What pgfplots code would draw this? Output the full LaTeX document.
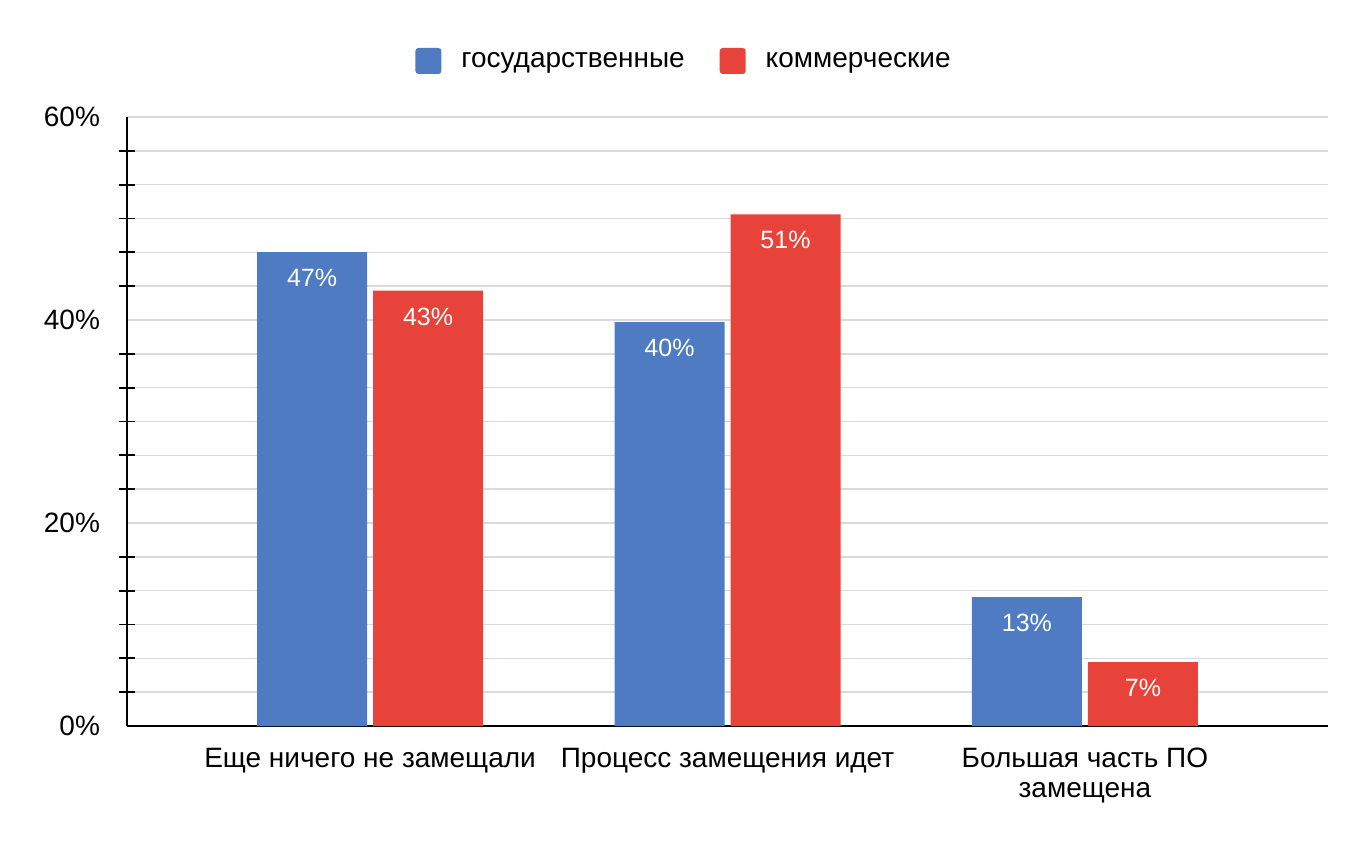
\documentclass[border=0pt]{standalone}
\usepackage{fontspec}
\setmainfont{Liberation Sans}
\usepackage{pgfplots}
\pgfplotsset{compat=1.18}
\definecolor{gosblue}{HTML}{4E7BC1}
\definecolor{komred}{HTML}{E8433A}
\definecolor{gridgray}{HTML}{DADADA}
\pgfplotsset{sq legend/.style={legend image code/.code={%
    \path[##1, rounded corners=1.5pt] (0pt,-6.5pt) rectangle (13pt,6.5pt);}}}

\begin{document}
\begin{tikzpicture}
\path[use as bounding box] (0,0) rectangle (685pt,423.5pt);
\begin{axis}[
    at={(63.5pt,60.5pt)}, anchor=south west,
    scale only axis,
    width=600.5pt, height=304.5pt,
    ybar=3pt, bar width=55pt,
    xmin=-0.68, xmax=2.68,
    ymin=0, ymax=60,
    xtick={0,1,2},
    xticklabels={Еще ничего не замещали, Процесс замещения идет, {Большая часть ПО\\замещена}},
    xticklabel style={align=center, font=\fontsize{14}{15}\selectfont, yshift=-7.5pt},
    ytick={0,20,40,60},
    /pgf/number format/assume math mode=true,
    yticklabel={\pgfmathprintnumber{\tick}\%},
    yticklabel style={font=\fontsize{14}{17}\selectfont, xshift=-10pt},
    minor y tick num=5,
    ymajorgrids, yminorgrids,
    major grid style={gridgray, line width=0.8pt},
    minor grid style={gridgray, line width=0.8pt},
    axis x line*=bottom, axis y line*=left,
    axis line style={black, line width=0.9pt},
    major tick length=0pt, minor tick length=7.5pt,
    tick align=center,
    ytick style={black, line width=0.9pt},
    xtick style={draw=none},
    point meta=explicit symbolic,
    nodes near coords={\pgfplotspointmeta\%},
    nodes near coords style={font=\fontsize{12.5}{15}\selectfont, text=white, anchor=center, yshift=-13pt},
    legend columns=-1,
    legend style={at={(0.4646,1.092)}, anchor=center, draw=none,
        font=\fontsize{14}{17}\selectfont,
        /tikz/every odd column/.append style={column sep=8pt},
        /tikz/every even column/.append style={column sep=15.5pt}},
]
\addplot[fill=gosblue, draw=none, sq legend]
    coordinates {(0,46.7) [47] (1,39.8) [40] (2,12.7) [13]};
\addplot[fill=komred, draw=none, sq legend]
    coordinates {(0,42.9) [43] (1,50.4) [51] (2,6.3) [7]};
\legend{государственные, коммерческие}
\end{axis}
\end{tikzpicture}
\end{document}
